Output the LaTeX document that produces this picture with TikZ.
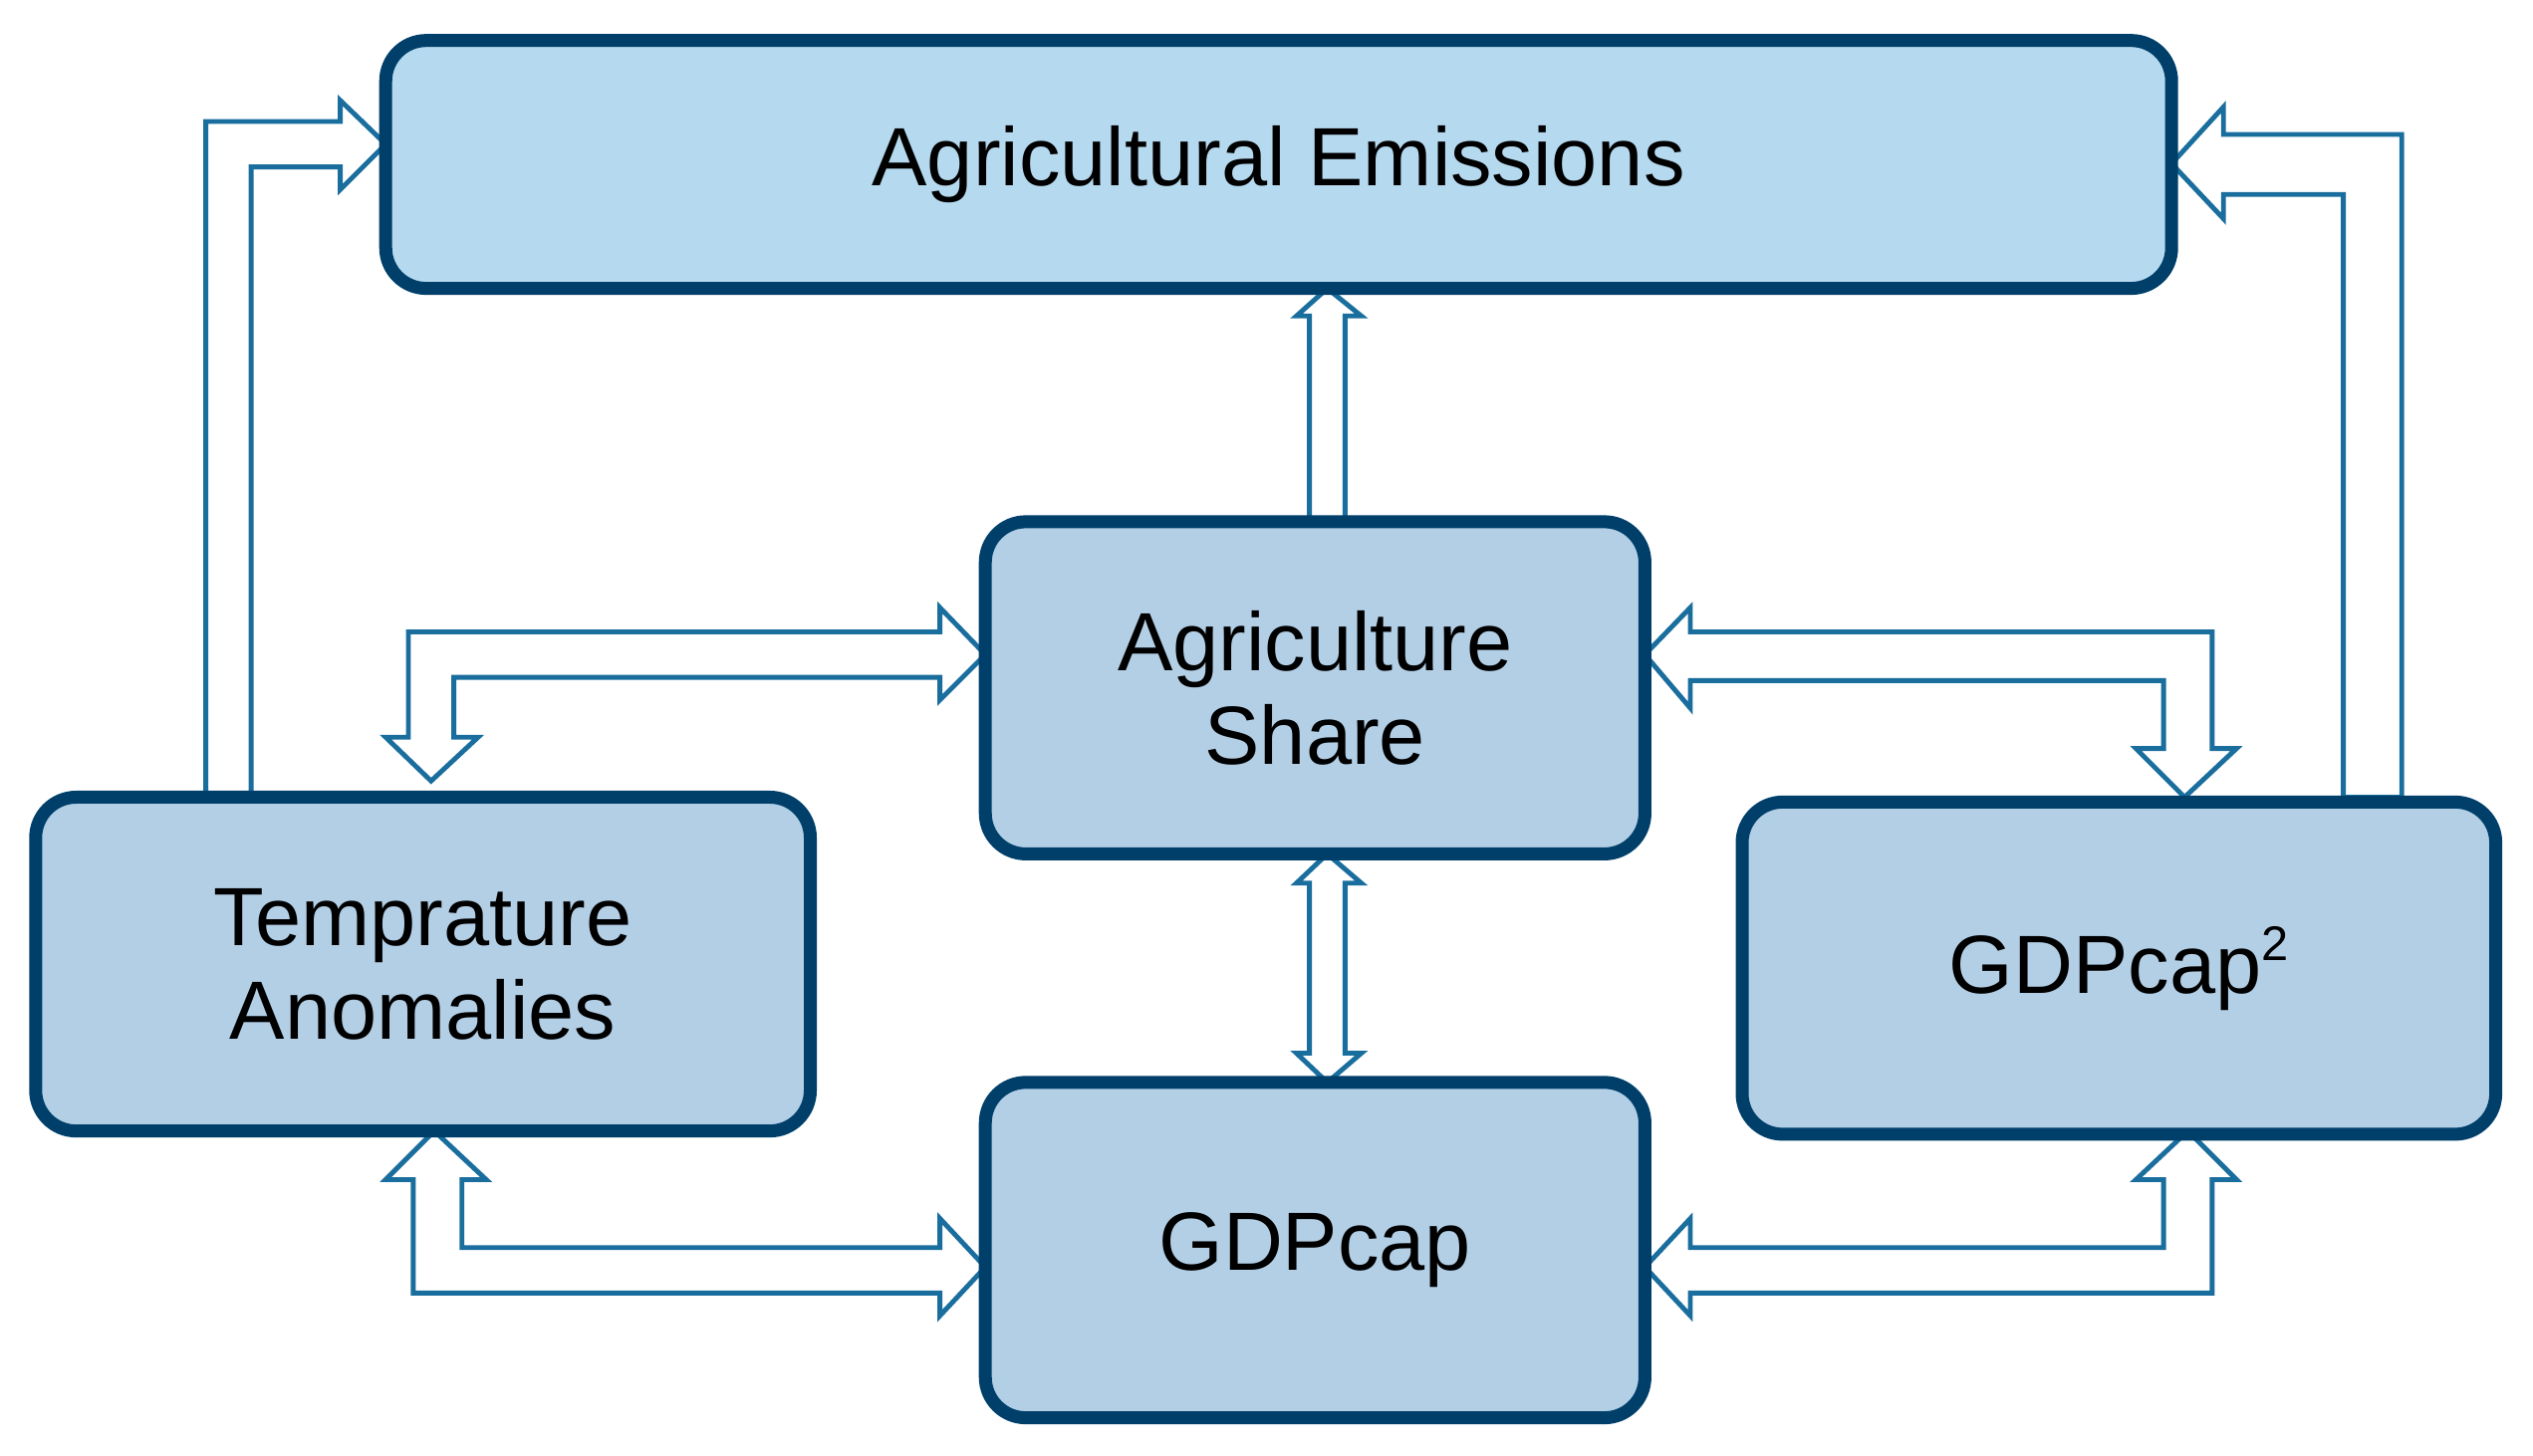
\documentclass[tikz,border=0pt]{standalone}
\usepackage{fontspec}
\setmainfont{Liberation Sans}
\definecolor{bfill}{HTML}{B3CFE6}
\definecolor{tfill}{HTML}{B5D9EF}
\definecolor{bdraw}{HTML}{003F6A}
\definecolor{adraw}{HTML}{1A6E9E}
\begin{document}
\begin{tikzpicture}[x=0.5pt,y=-0.5pt,
  box/.style={draw=bdraw,line width=4pt,fill=bfill,rounded corners=12.5pt,align=center,font=\fontsize{25.5}{29}\selectfont,inner sep=0pt},
  harrow/.style={draw=adraw,line width=1.5pt,fill=white,line join=miter}]
\useasboundingbox (0,0) rectangle (1563,898);
% arrows
\draw[harrow] (127,492)--(127,75)--(210,75)--(210,62)--(238,89)--(210,117)--(210,103)--(155,103)--(155,492)--cycle;
\draw[harrow] (1482,492)--(1482,83)--(1372,83)--(1372,66)--(1340,101)--(1372,135)--(1372,120)--(1446,120)--(1446,492)--cycle;
\draw[harrow] (808,322)--(808,195)--(800,195)--(819,178)--(840,195)--(830,195)--(830,322)--cycle;
\draw[harrow] (608,404)--(580,375)--(580,390)--(252,390)--(252,455)--(238,455)--(266,482)--(295,455)--(280,455)--(280,418)--(580,418)--(580,432)--cycle;
\draw[harrow] (1015,404)--(1043,375)--(1043,390)--(1365,390)--(1365,462)--(1380,462)--(1348,492)--(1318,462)--(1335,462)--(1335,420)--(1043,420)--(1043,437)--cycle;
\draw[harrow] (819,527)--(840,545)--(830,545)--(830,650)--(840,650)--(819,668)--(800,650)--(808,650)--(808,545)--(800,545)--cycle;
\draw[harrow] (268,698)--(300,728)--(285,728)--(285,770)--(580,770)--(580,752)--(608,782)--(580,812)--(580,798)--(255,798)--(255,728)--(238,728)--cycle;
\draw[harrow] (1015,782)--(1043,752)--(1043,770)--(1335,770)--(1335,728)--(1318,728)--(1350,698)--(1380,728)--(1365,728)--(1365,798)--(1043,798)--(1043,812)--cycle;
% boxes
\node[box,fill=tfill,minimum width=551pt,minimum height=76.5pt] (em) at (789,101.5) {Agricultural Emissions};
\node[box,minimum width=203.5pt,minimum height=102.5pt] (sh) at (811.5,424.5) {Agriculture\\Share};
\node[box,minimum width=239pt,minimum height=103pt] (tp) at (261,595) {Temprature\\Anomalies};
\node[box,minimum width=203.5pt,minimum height=103.5pt] (gd) at (811.5,771.5) {GDPcap};
\node[box,minimum width=232.5pt,minimum height=102.5pt] (g2) at (1307.5,597.5) {GDPcap\raisebox{0.75ex}{\fontsize{15}{15}\selectfont 2}};
\end{tikzpicture}
\end{document}
